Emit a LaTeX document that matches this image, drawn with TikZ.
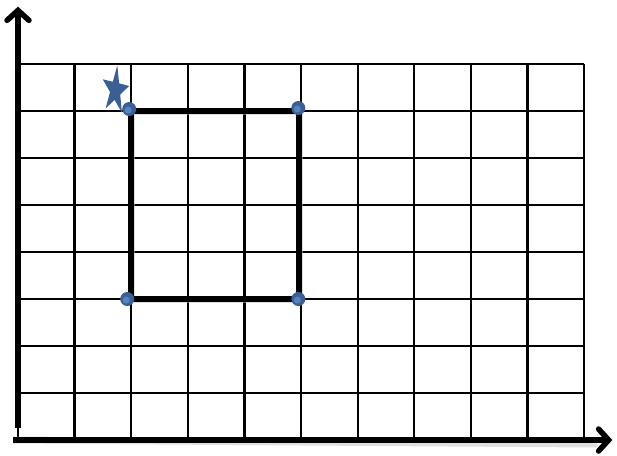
\documentclass[tikz,border=0pt]{standalone}
\usetikzlibrary{arrows.meta, shapes.geometric}
\definecolor{dotBlue}{HTML}{3A5F96}
\definecolor{dotLight}{HTML}{5683BE}
\tikzstyle{gridline}=[line width=2.2pt, black]
\tikzstyle{axis}=[line width=5.5pt, black, -{Straight Barb[length=10pt, width=22pt, line cap=round]}]
\tikzstyle{shade}=[line width=7pt, black!25, opacity=0.5]
\tikzstyle{corner}=[circle, fill=dotBlue, inner sep=0pt, minimum size=14pt]

\begin{document}
\begin{tikzpicture}[x=56.6pt, y=47pt]
			\useasboundingbox (-0.318,-0.319) rectangle (10.583,9.362);

			% Grid
			\foreach \x in {0,...,10}{ \draw[gridline] (\x,0) -- (\x,8); }
			\foreach \y in {1,...,8}{ \draw[gridline] (0,\y) -- (10,\y); }

			% Corners of the box
			\coordinate (tl) at (2,7);
			\coordinate (tr) at (4.97,7);
			\coordinate (br) at (4.97,3);
			\coordinate (bl) at (2,3);

			\draw[shade, xshift=2pt, yshift=-3pt] (tl) -- (tr) -- (br) -- (bl) -- cycle;
			\draw[line width=6pt] (tl) -- (tr) -- (br) -- (bl) -- cycle;

			% Axes
			\coordinate (xs) at (-0.09,0);
			\coordinate (xe) at (10.5,0);
			\coordinate (ys) at (0,0.26);
			\coordinate (ye) at (0,9.22);
			\draw[shade, xshift=2pt, yshift=-4pt] (xs) -- (10.2,0);
			\draw[axis] (ys) -- (ye);
			\draw[axis] (xs) -- (xe);

			\node[corner] (ptl) at ([xshift=-2pt, yshift=2pt]tl) {};
			\node[corner] (ptr) at ([xshift=-1pt, yshift=3pt]tr) {};
			\node[corner] (pbl) at ([xshift=-4pt, yshift=0pt]bl) {};
			\node[corner] (pbr) at ([xshift=-1pt, yshift=0pt]br) {};
			\foreach \p in {ptl, ptr, pbl, pbr}{
				\fill[dotLight] ([xshift=-1pt, yshift=-1pt]\p.center) circle (3.5pt);
			}

			% Marker
			\node[star, star points=5, star point ratio=2.6, fill=dotBlue, inner sep=0pt,
				minimum size=28pt, yscale=1.8, rotate=-8] (mark) at (1.72,7.44) {};
		\end{tikzpicture}
\end{document}
